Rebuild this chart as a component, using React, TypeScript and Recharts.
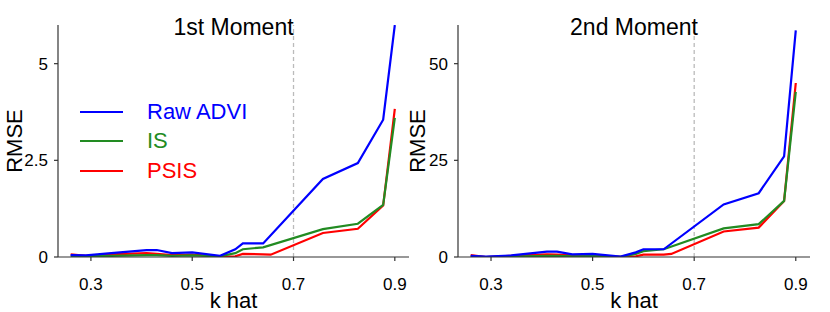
import React from 'react';
import { LineChart, Line, XAxis, YAxis, ReferenceLine } from 'recharts';

// ── Data ──────────────────────────────────────────────────────────────────────
const K_HAT = [0.26, 0.29, 0.34, 0.41, 0.43, 0.46, 0.5, 0.555, 0.585, 0.6, 0.64, 0.655, 0.758, 0.827, 0.877, 0.9];

// 1st moment RMSE
const RAW_1  = [0.05, 0.04, 0.1, 0.18, 0.18, 0.1, 0.12, 0.03, 0.2, 0.35, 0.35, null, 2.02, 2.43, 3.55, 6.0];
const IS_1   = [0.02, 0.02, 0.03, 0.05, 0.05, 0.03, 0.04, 0.02, 0.1, 0.2, 0.25, null, 0.72, 0.86, 1.35, 3.6];
const PSIS_1 = [0.07, 0.03, 0.07, 0.1, 0.08, 0.05, 0.06, 0.01, 0.02, 0.08, 0.07, 0.06, 0.62, 0.73, 1.33, 3.83];

// 2nd moment RMSE
const RAW_2  = [0.3, 0.1, 0.4, 1.4, 1.4, 0.7, 0.8, 0.1, 1.2, 2.0, 2.0, null, 13.6, 16.5, 26, 58.6];
const IS_2   = [0.1, 0.0, 0.1, 0.3, 0.3, 0.2, 0.25, 0.05, 0.8, 1.5, 2.0, null, 7.4, 8.5, 14.5, 42.7];
const PSIS_2 = [0.5, 0.0, 0.3, 0.7, 0.6, 0.4, 0.5, 0.05, 0.2, 0.6, 0.6, 0.8, 6.6, 7.6, 14.5, 45];

const X_TICKS  = [0.3, 0.5, 0.7, 0.9];
const Y1_TICKS = [0, 2.5, 5];
const Y2_TICKS = [0, 25, 50];

const SERIES = [
  { key: 'raw',  name: 'Raw ADVI', color: '#0000ff' },
  { key: 'is',   name: 'IS',       color: '#228b22' },
  { key: 'psis', name: 'PSIS',     color: '#ff0000' },
];

// ── Constants ─────────────────────────────────────────────────────────────────
const FONT = '"Liberation Sans", Arial, Helvetica, sans-serif';
const AXIS = '#333';

function rows(raw: (number | null)[], is: (number | null)[], psis: (number | null)[]) {
  return K_HAT.map((k, i) => ({ k, raw: raw[i], is: is[i], psis: psis[i] }));
}

const DATA_1 = rows(RAW_1, IS_1, PSIS_1);
const DATA_2 = rows(RAW_2, IS_2, PSIS_2);

function yLabel(dx: number) {
  return function YLabel(props: any) {
    const vb = props.viewBox || {};
    const x = (vb.x ?? 0) + dx;
    const y = (vb.y ?? 0) + (vb.height ?? 0) / 2;
    return (
      <text
        x={x}
        y={y}
        transform={`rotate(-90 ${x} ${y})`}
        textAnchor="middle"
        dominantBaseline="central"
        fontSize={22}
        fontFamily={FONT}
        fill="#000"
      >
        RMSE
      </text>
    );
  };
}

interface PanelProps {
  left: number;
  width: number;
  right: number;
  data: any[];
  yMax: number;
  yTicks: number[];
  labelDx: number;
  title: string;
}

function Panel({ left, width, right, data, yMax, yTicks, labelDx, title }: PanelProps) {
  const plotLeft = 58;
  const plotRight = width - right;
  return (
    <div style={{ position: 'absolute', left, top: 0, width, height: 312 }}>
      <LineChart
        width={width}
        height={312}
        data={data}
        margin={{ top: 25, right, bottom: 0, left: 0 }}
      >
        <XAxis
          dataKey="k"
          type="number"
          domain={[0.235, 0.928]}
          ticks={X_TICKS}
          allowDataOverflow
          tickFormatter={(v: number) => v.toFixed(1)}
          height={55}
          stroke={AXIS}
          strokeWidth={1.2}
          tickSize={4}
          tickMargin={17}
          tick={{ fill: '#000', fontSize: 17, fontFamily: FONT }}
          label={{ value: 'k hat', position: 'insideBottom', offset: 4, fontSize: 22, fill: '#000', fontFamily: FONT }}
        />
        <YAxis
          type="number"
          domain={[0, yMax]}
          ticks={yTicks}
          allowDataOverflow
          width={58}
          stroke={AXIS}
          strokeWidth={1.2}
          tickSize={4}
          tickMargin={6}
          tick={{ fill: '#000', fontSize: 17, fontFamily: FONT }}
          label={yLabel(labelDx)}
        />
        <ReferenceLine x={0.7} stroke="#bbbbbb" strokeWidth={1.3} strokeDasharray="4 3" />
        {[SERIES[2], SERIES[1], SERIES[0]].map(s => (
          <Line
            key={s.key}
            type="linear"
            dataKey={s.key}
            stroke={s.color}
            strokeWidth={2.2}
            dot={false}
            connectNulls
            isAnimationActive={false}
          />
        ))}
      </LineChart>
      <div
        style={{
          position: 'absolute',
          left: plotLeft,
          width: plotRight - plotLeft,
          top: 16,
          textAlign: 'center',
          fontSize: 23,
          lineHeight: '23px',
          fontFamily: FONT,
          color: '#000',
          pointerEvents: 'none',
        }}
      >
        {title}
      </div>
    </div>
  );
}

function LegendBox() {
  return (
    <div style={{ position: 'absolute', left: 80, top: 97, fontFamily: FONT }}>
      {SERIES.map(s => (
        <div key={s.key} style={{ display: 'flex', alignItems: 'center', height: 29.5 }}>
          <div style={{ width: 43, height: 2, background: s.color }} />
          <div style={{ marginLeft: 24, fontSize: 22, color: s.color, lineHeight: '22px' }}>{s.name}</div>
        </div>
      ))}
    </div>
  );
}

export default function App() {
  return (
    <div style={{ position: 'absolute', left: 0, top: 0, width: 830, height: 312, background: '#fff' }}>
      <Panel left={0} width={415} right={6} data={DATA_1} yMax={6} yTicks={Y1_TICKS} labelDx={14} title="1st Moment" />
      <Panel left={400} width={430} right={20} data={DATA_2} yMax={60} yTicks={Y2_TICKS} labelDx={17} title="2nd Moment" />
      <LegendBox />
    </div>
  );
}
